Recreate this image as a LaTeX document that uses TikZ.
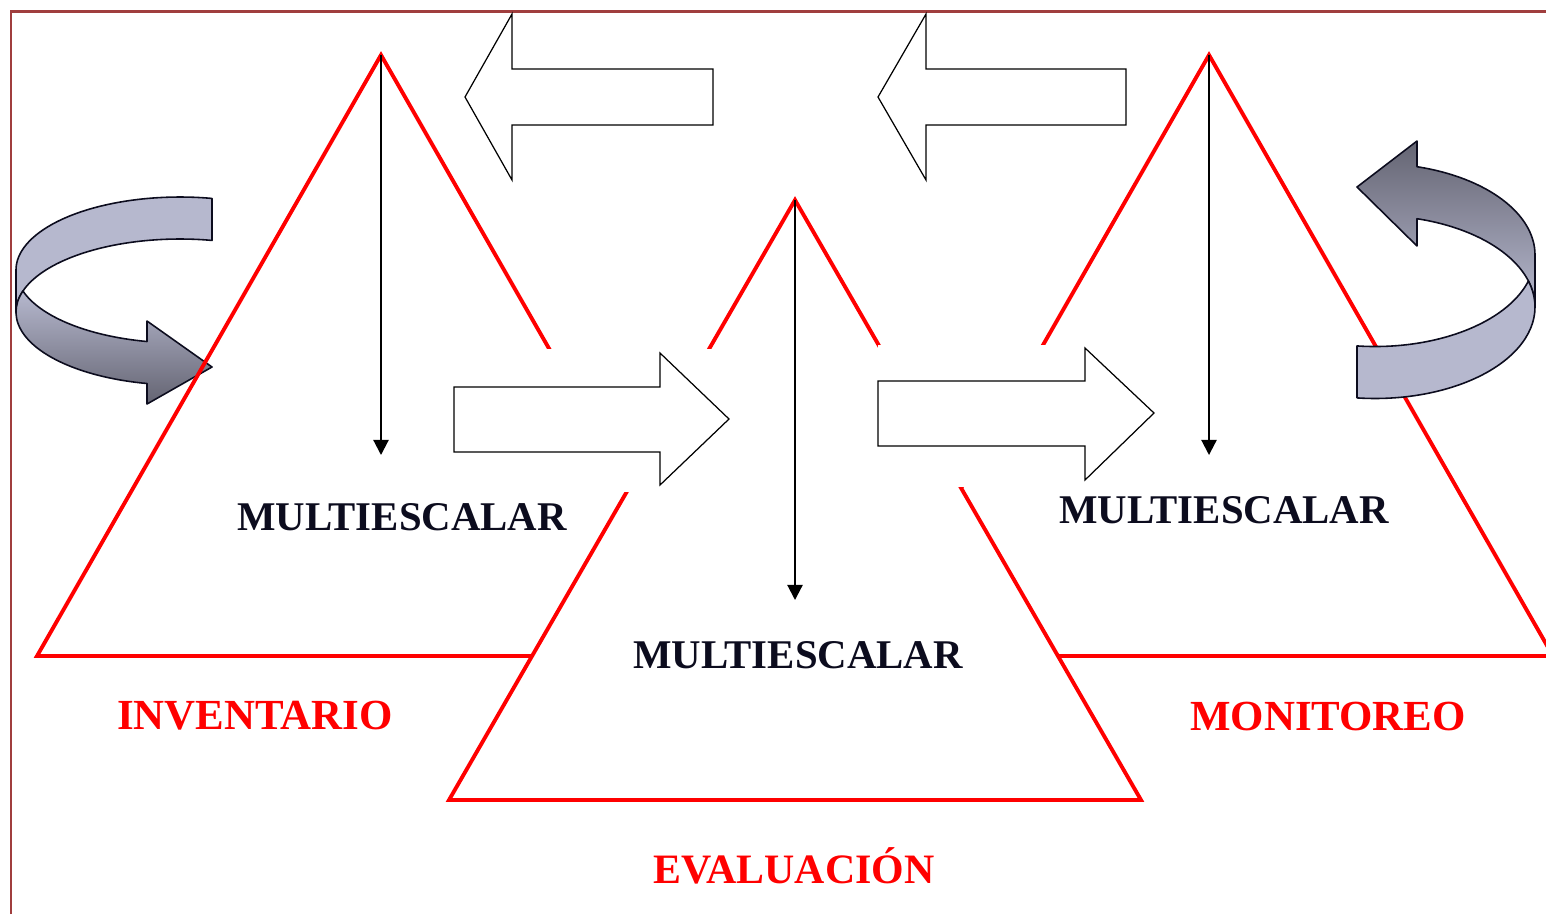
\documentclass[tikz,border=0pt]{standalone}
\usepackage{fontspec}
\setmainfont{Liberation Serif}
\usetikzlibrary{calc}
\usetikzlibrary{arrows.meta}
\definecolor{framecol}{RGB}{160,62,62}
\definecolor{inkcol}{RGB}{12,12,30}
\definecolor{ribbonlight}{RGB}{182,184,206}
\definecolor{ribbondark}{RGB}{100,100,114}
\tikzset{>=latex}
\tikzset{tri/.style = {draw=red, line width=1.1pt}}
\tikzset{cover/.style = {fill=white, draw=none}}
\tikzset{blockarrow/.style = {draw=black, fill=white, line width=0.35pt}}
\tikzset{down/.style = {line width=0.6pt, -{Triangle[length=4.3pt,width=4.3pt]}}}
\tikzset{ribbon/.style = {draw=inkcol, line width=0.45pt, line join=round}}
\tikzset{multi/.style = {font=\fontsize{11.6}{13}\selectfont\bfseries, text=inkcol, inner sep=0pt, anchor=base}}
\tikzset{stage/.style = {font=\fontsize{12.2}{14}\selectfont\bfseries, text=red, inner sep=0pt, anchor=base}}

\begin{document}
\begin{tikzpicture}[x=0.01cm, y=-0.01cm]
                    \clip (0,0) rectangle (1546,914);
                    \draw[framecol, line width=0.85pt] (11,914) -- (11,11) -- (1546,11);

                    % left turn
                    \draw[ribbon, fill=ribbonlight] ($(180,270)+(281.25:164 and 73)$)
                        arc[start angle=281.25, end angle=180, x radius=164, y radius=73]
                        -- ++(0,42)
                        arc[start angle=180, end angle=281.25, x radius=164, y radius=73] -- cycle;
                    \draw[ribbon, top color=ribbonlight, bottom color=ribbondark] ($(180,270)+(163.28:164 and 73)$)
                        arc[start angle=163.28, end angle=101.6, x radius=164, y radius=73]
                        -- (147,321) -- (212,367) -- (147,404) -- (147,383.5)
                        arc[start angle=101.6, end angle=196.72, x radius=164, y radius=73] -- cycle;

                    \coordinate (Itop) at (381,55);
                    \coordinate (Ileft) at (37,656);
                    \coordinate (Iright) at (725,656);
                    \coordinate (Mtop) at (1209,55);
                    \coordinate (Mleft) at (865,656);
                    \coordinate (Mright) at (1553,656);
                    \coordinate (Etop) at (795,200);
                    \coordinate (Eleft) at (449,800);
                    \coordinate (Eright) at (1141,800);

                    \draw[tri] (Itop) -- (Ileft) -- (Iright) -- cycle;
                    \draw[tri] (Mtop) -- (Mleft) -- (Mright) -- cycle;
                    \draw[tri, fill=white] (Etop) -- (Eleft) -- (Eright) -- cycle;

                    \fill[cover] (450,349) rectangle (735,492);
                    \fill[cover] (878,345) rectangle (1160,487);

                    \coordinate (Iend) at (381,455);
                    \coordinate (Eend) at (795,600);
                    \coordinate (Mend) at (1209,455);
                    \draw[down] (Itop) -- (Iend);
                    \draw[down] (Etop) -- (Eend);
                    \draw[down] (Mtop) -- (Mend);

                    \draw[blockarrow] (465,97) -- (512,14) -- (512,69) -- (713,69) -- (713,125) -- (512,125) -- (512,180) -- cycle;
                    \draw[blockarrow] (878,97) -- (926,14) -- (926,69) -- (1126,69) -- (1126,125) -- (926,125) -- (926,180) -- cycle;
                    \draw[blockarrow] (454,387) -- (660,387) -- (660,353) -- (729,419) -- (660,485) -- (660,452) -- (454,452) -- cycle;
                    \draw[blockarrow] (878,381) -- (1085,381) -- (1085,348) -- (1154,413) -- (1085,480) -- (1085,446) -- (878,446) -- cycle;

                    % right turn
                    \draw[ribbon, top color=ribbondark, bottom color=ribbonlight] ($(1375,255)+(285.22:160 and 91.5)$)
                        arc[start angle=285.22, end angle=360, x radius=160, y radius=91.5]
                        -- ++(0,52)
                        arc[start angle=0, end angle=-74.78, x radius=160, y radius=91.5]
                        -- (1417,246) -- (1357,187) -- (1417,141) -- cycle;
                    \draw[ribbon, fill=ribbonlight] ($(1375,255)+(16.51:160 and 91.5)$)
                        arc[start angle=16.51, end angle=96.46, x radius=160, y radius=91.5]
                        -- (1357,397.9)
                        arc[start angle=96.46, end angle=-16.51, x radius=160, y radius=91.5] -- cycle;

                    \node[multi] (M1) at (402,530) {MULTIESCALAR};
                    \node[multi] (M2) at (798,668) {MULTIESCALAR};
                    \node[multi] (M3) at (1224,523) {MULTIESCALAR};
                    \node[stage] (Inv) at (255,729) {INVENTARIO};
                    \node[stage, font=\fontsize{11.9}{14}\selectfont\bfseries] (Eva) at (794,883) {EVALUACIÓN};
                    \node[stage] (Mon) at (1328,730) {MONITOREO};
                \end{tikzpicture}
\end{document}
